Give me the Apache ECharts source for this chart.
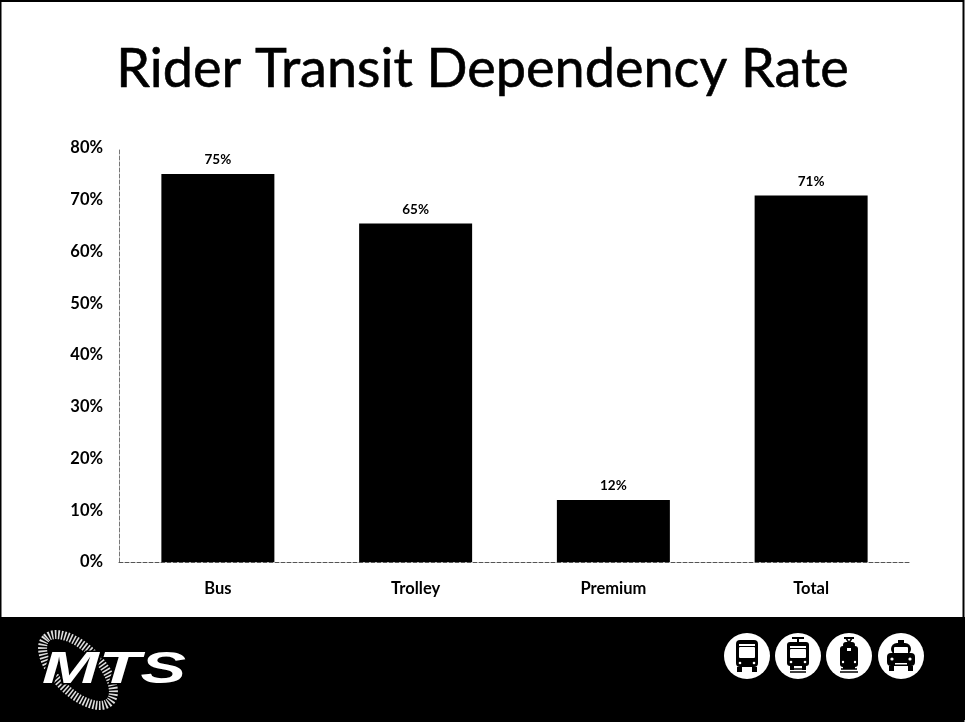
<!DOCTYPE html>
<html><head><meta charset="utf-8">
<style>html,body{margin:0;padding:0;background:#fff}#c{width:965px;height:724px}</style>
<script src="https://cdn.jsdelivr.net/npm/echarts@6/dist/echarts.min.js"></script></head>
<body><div id="c"></div>
<script>
const categories=['Bus','Trolley','Premium','Total'];
const rates=[75,65.4,12,70.8];
const chartTitle='Rider Transit Dependency Rate';
const logoText='MTS';
const F='Lato, "Open Sans", sans-serif';

const chart=echarts.init(document.getElementById('c'),null,{renderer:'canvas'});

function iconParts(cx,kind){
  const cy=656, g=[];
  const R=(x,y,w,h,fill,r)=>g.push({type:'rect',shape:{x:cx+x,y:cy+y,width:w,height:h,r:r||0},style:{fill}});
  const L=(x1,y1,x2,y2,w)=>g.push({type:'line',shape:{x1:cx+x1,y1:cy+y1,x2:cx+x2,y2:cy+y2},style:{stroke:'#000',lineWidth:w||2}});
  const C=(x,y,r)=>g.push({type:'circle',shape:{cx:cx+x,cy:cy+y,r},style:{fill:'#fff'}});
  g.push({type:'circle',shape:{cx,cy,r:23},style:{fill:'#fff'}});
  if(kind==='bus'){
    R(-11,-16,22,27,'#000',4);
    R(-8,-12,16,2,'#fff');
    R(-8,-9,16,11,'#fff',1);
    C(-7,7,1.3);C(7,7,1.3);
    R(-10,11,5,5,'#000');R(5,11,5,5,'#000');
  }else if(kind==='trolley'){
    L(-6,-18,6,-18,2);L(0,-18,0,-13,2);
    R(-11,-14,22,24,'#000',3);
    R(-8,-10,16,2,'#fff');
    R(-8,-7,16,9,'#fff',1);
    C(-7,6,1.3);C(7,6,1.3);
    R(-8,10,4,4,'#000');R(4,10,4,4,'#000');
    L(-6,13,6,13,1.5);L(-8,16,8,16,1.5);
  }else if(kind==='train'){
    L(-5,-18,5,-18,2);L(-3,-18,0,-13,1.5);L(3,-18,0,-13,1.5);
    R(-6,-14,12,6,'#000',3);
    R(-9,-10,18,21,'#000',3);
    R(-2,-8,4,3,'#fff');
    C(-6,6,1.2);C(6,6,1.2);
    R(-6,11,12,2,'#000');
    L(-8,13,8,13,1.5);L(-9,16,9,16,1.5);
  }else{
    R(-3,-16,6,3,'#000');
    R(-10,-13,20,12,'#000',6);
    R(-7,-9,14,7,'#fff',1);
    R(-14,-3,28,13,'#000',4);
    C(-9,3,1.6);C(9,3,1.6);
    R(-12,10,5,5,'#000');R(7,10,5,5,'#000');
    R(-6,7,12,1.5,'#fff');
  }
  return g;
}

const swirl=[
  {type:'ellipse',x:78,y:670,rotation:-Math.PI/4,shape:{cx:0,cy:0,rx:45,ry:22},
    style:{fill:'none',stroke:'#ddd',lineWidth:9,lineDash:[1.6,1.6]}}
];

chart.setOption({
  animation:false,
  backgroundColor:'#fff',
  title:{text:chartTitle,left:'center',top:38,textStyle:{fontFamily:F,fontWeight:400,fontSize:54,color:'#000',textBorderColor:'#000',textBorderWidth:0.6}},
  grid:{left:119,right:55,top:148,height:414,containLabel:false},
  xAxis:{type:'category',data:categories,
    axisLine:{lineStyle:{color:'#555',width:1,type:'dashed'}},axisTick:{show:false},
    axisLabel:{fontFamily:F,fontSize:16.5,fontWeight:'bold',color:'#000',margin:18}},
  yAxis:{type:'value',min:0,max:80,interval:10,
    axisLine:{show:true,lineStyle:{color:'#777',width:1,type:'dashed'}},axisTick:{show:false},splitLine:{show:false},
    axisLabel:{formatter:'{value}%',fontFamily:F,fontSize:16.5,fontWeight:'bold',color:'#000',margin:16}},
  series:[{type:'bar',data:rates,barWidth:113,itemStyle:{color:'#000'},
    label:{show:true,position:'top',formatter:p=>Math.round(p.value)+'%',distance:7,fontFamily:F,fontSize:13.5,fontWeight:'bold',color:'#000'}}],
  graphic:[
    {type:'rect',z:-1,shape:{x:0,y:617,width:965,height:103},style:{fill:'#000'}},
    {type:'rect',shape:{x:0.5,y:1,width:963,height:720},style:{fill:'none',stroke:'#000',lineWidth:2}},
    ...swirl,
    {type:'text',x:42,y:649,scaleX:1.55,style:{text:logoText,fontFamily:'"Liberation Sans",sans-serif',fontWeight:'bold',fontStyle:'italic',fontSize:44,fill:'#fff',stroke:'#000',lineWidth:3}},
    ...iconParts(747,'bus'),...iconParts(798,'trolley'),...iconParts(849,'train'),...iconParts(901,'taxi')
  ]
});
</script></body></html>
